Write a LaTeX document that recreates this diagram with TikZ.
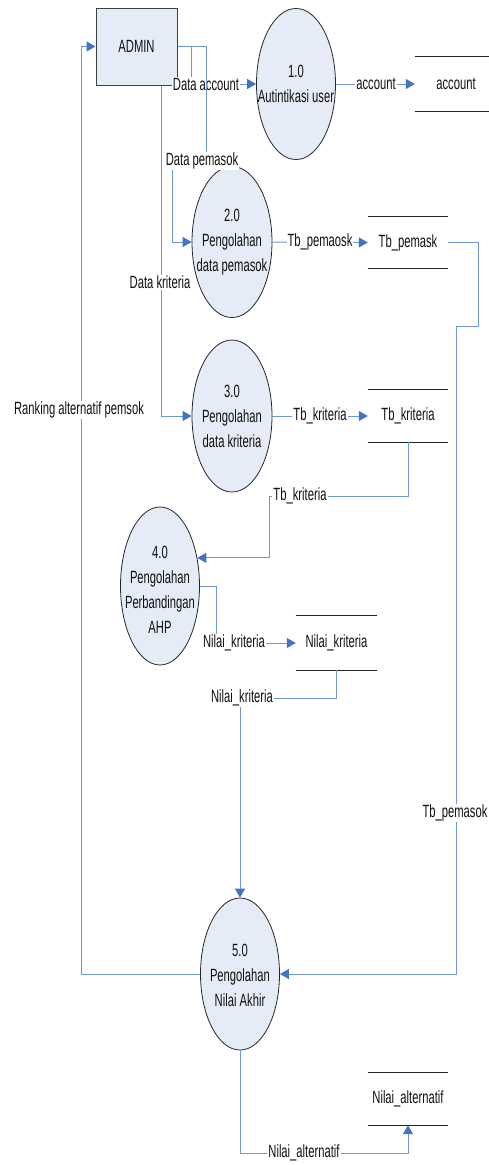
\documentclass[tikz,border=0pt]{standalone}
\usepackage{fontspec}
\newfontfamily\dfd[FakeStretch=0.635]{Liberation Sans}
\usetikzlibrary{arrows.meta,shapes.geometric,calc}
\definecolor{procfill}{HTML}{E6ECF7}
\definecolor{flowline}{HTML}{6F97D6}
\definecolor{tipblue}{HTML}{4472C4}
\definecolor{txt}{HTML}{111111}
\tikzset{
  proc/.style={ellipse, draw=black!85, line width=0.8pt, fill=procfill, minimum width=79pt, minimum height=151pt, inner sep=0pt},
  ptext/.style={align=center, inner sep=0pt, text=txt, font=\dfd\fontsize{17.7}{25}\selectfont},
  ent/.style={rectangle, draw=black!75, line width=1pt, fill=procfill, minimum width=81pt, minimum height=77pt, inner sep=0pt, text=txt, font=\dfd\fontsize{17.7}{25}\selectfont},
  store/.style={rectangle, minimum width=80pt, minimum height=52pt, inner sep=0pt, text=txt, font=\dfd\fontsize{17.7}{25}\selectfont},
  storeline/.style={draw=black!85, line width=1.2pt},
  flow/.style={draw=flowline, line width=1pt},
  arr/.style={-{Triangle[length=9pt,width=10pt,color=tipblue]}},
  lbl/.style={fill=white, inner sep=1pt, text=txt, font=\dfd\fontsize{17.7}{20}\selectfont}
}
\begin{document}
\begin{tikzpicture}[x=1pt,y=-1pt]
\useasboundingbox (0,0) rectangle (489,1165);
% entities and processes
\node[ent] (admin) at (136.5,46.5) {ADMIN};
\node[proc] (p1) at (296,84) {};
\node[ptext] (p1t) at (p1) {1.0\\Autintikasi user};
\node[proc, minimum width=80pt] (p2) at (232,242) {};
\node[ptext] (p2t) at (p2) {2.0\\Pengolahan\\data pemasok};
\node[proc, minimum width=80pt, minimum height=152pt] (p3) at (232,416) {};
\node[ptext] (p3t) at (p3) {3.0\\Pengolahan\\data kriteria};
\node[proc, minimum height=158pt] (p4) at (160,586) {};
\node[ptext] (p4t) at (160,590) {4.0\\Pengolahan\\Perbandingan\\AHP};
\node[proc, minimum height=152pt] (p5) at (240,974) {};
\node[ptext] (p5t) at (240,975) {5.0\\Pengolahan\\Nilai Akhir};
% data stores
\node[store, minimum height=54pt] (s1) at (455,84) {};
\node[ptext] (s1t) at (456,84) {account};
\node[store, minimum height=51pt] (s2) at (408,242.5) {Tb\_pemask};
\node[store] (s3) at (408,416) {Tb\_kriteria};
\node[store, minimum width=81pt, minimum height=54pt] (s4) at (336.5,643) {Nilai\_kriteria};
\node[store] (s5) at (408,1099) {Nilai\_alternatif};
\foreach \s in {s1,s2,s3,s4,s5}{
  \draw[storeline] (\s.north west) -- (\s.north east) (\s.south west) -- (\s.south east);
}
% flows
\draw[flow,arr] (admin.east) -- ++(14,0) |- (p1.west);
\node[lbl] (l1) at (206,84) {Data account};
\draw[flow,arr] (admin.east) -| (206,162) -| (172,242) -- (p2.west);
\node[lbl] (l2) at (202,161) {Data pemasok};
\draw[flow,arr] ([xshift=-16pt]admin.south east) |- (p3.west);
\node[lbl] (l3) at (160,282) {Data kriteria};
\draw[flow,arr] (p5.west) -| ($(admin.west)+(-14,0)$) -- (admin.west);
\node[lbl] (l4) at (79,410) {Ranking alternatif pemsok};
\draw[flow,arr] (p1.east) -- (s1.west);
\node[lbl] (l5) at (376,84) {account};
\draw[flow,arr] (p2.east) -- (s2.west);
\node[lbl] (l6) at (320,242) {Tb\_pemaosk};
\draw[flow,arr] (p3.east) -- (s3.west);
\node[lbl] (l7) at (320,416) {Tb\_kriteria};
\draw[flow,arr] (s3.south) |- (269,496) |- (p4.37);
\node[lbl] (l8) at (300,496) {Tb\_kriteria};
\draw[flow,arr] (p4.east) -| (216,643) -- (s4.west);
\node[lbl] (l9) at (234,643) {Nilai\_kriteria};
\draw[flow,arr] (s4.south) |- (240,698) -- (p5.north);
\node[lbl] (l10) at (242,698) {Nilai\_kriteria};
\draw[flow,arr] (s2.east) -| (478,326) -| (456,974) -- (p5.east);
\node[lbl] (l11) at (455,813) {Tb\_pemasok};
\draw[flow,arr] (p5.south) |- (408,1153) -- (s5.south);
\node[lbl] (l12) at (304,1153) {Nilai\_alternatif};
\end{tikzpicture}
\end{document}
